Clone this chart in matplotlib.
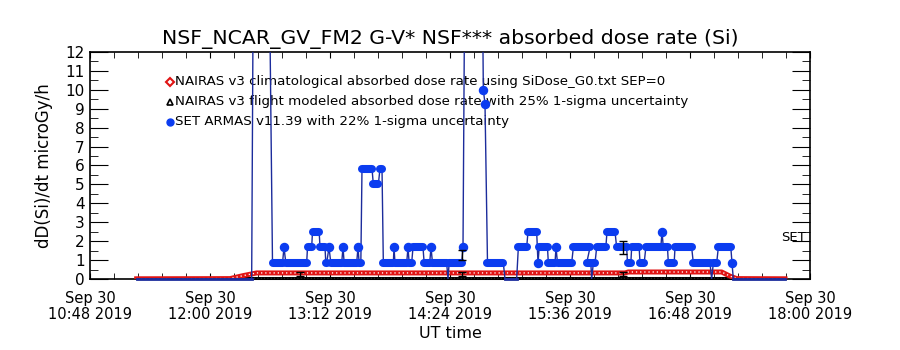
import numpy as np
import matplotlib
matplotlib.use('Agg')
import matplotlib.pyplot as plt
from matplotlib.ticker import MultipleLocator

# ---------------------------------------------------------------
# data (time in minutes after 2019-09-30 10:48 UT)
# ---------------------------------------------------------------
xtick_labels = ['Sep 30\n10:48 2019', 'Sep 30\n12:00 2019', 'Sep 30\n13:12 2019',
                'Sep 30\n14:24 2019', 'Sep 30\n15:36 2019', 'Sep 30\n16:48 2019',
                'Sep 30\n18:00 2019']

# NAIRAS climatological dose rate (knots)
clim_t = [28, 84, 92, 100, 321, 323, 379, 384, 388, 417]
clim_v = [0.01, 0.02, 0.18, 0.32, 0.32, 0.37, 0.37, 0.15, 0.02, 0.01]

# NAIRAS flight modeled dose rate (knots) and its 25% error bars
flt_t = [28, 417]
flt_v = [0.05, 0.05]
flt_err_t = [126, 223, 320]
flt_err_v = [0.27, 0.27, 0.27]
flt_err = [0.11, 0.11, 0.11]

# SET ARMAS v11.39: levels held between start and end time
set_t0 = [28, 98.5, 109.5, 116.4, 117.5, 130.5, 133.5, 138, 141.5, 143.4, 144.5, 151.8,
          152.5, 160.8, 161.5, 163.2, 170, 174, 176, 182.4, 183, 190.8, 191.5, 193.8,
          200.5, 204.6, 205.5, 214.8, 215.5, 223.8, 225.5, 236, 237, 238.5, 249,
          257, 262.8, 268.8, 269.5, 275, 279.6, 280.5, 290, 298, 301, 302, 304,
          310.2, 316, 322.5, 325, 330, 333.5, 343.2, 344, 347, 351, 362, 373,
          374, 377, 385.2, 386]
set_t1 = [97, 106.5, 115.5, 116.4, 130, 133, 137.5, 141, 142, 143.4, 151, 151.8,
          160, 160.8, 162.5, 169.2, 173, 175.2, 182, 182.4, 190, 190.8, 193, 199.8,
          203.8, 204.6, 214, 214.8, 223, 223.8, 234.5, 236, 237, 248, 256,
          262, 268, 268.8, 274.5, 279, 279.6, 289, 300, 300.5, 301, 303, 309.5,
          315, 322, 324.5, 329.5, 332.5, 342.5, 343.2, 346.5, 350.5, 361, 372, 373,
          376, 384.5, 385.2, 417]
set_v = [0, 25, 0.84, 1.67, 0.84, 1.67, 2.5, 1.67, 0.84, 1.67, 0.84, 1.67,
         0.84, 1.67, 0.84, 5.84, 5.0, 5.84, 0.84, 1.67, 0.84, 1.67, 0.84, 1.67,
         0.84, 1.67, 0.84, 0, 0.84, 1.67, 25, 10.0, 9.26, 0.84, 0,
         1.67, 2.5, 0.84, 1.67, 0.84, 1.67, 0.84, 1.67, 0.84, 0, 0.84, 1.67,
         2.5, 1.67, 0.84, 1.67, 0.84, 1.67, 2.5, 1.67, 0.84, 1.67, 0.84, 0,
         0.84, 1.67, 0.84, 0]
set_err_t = [223.2, 319.8]
set_err_v = [1.26, 1.66]
set_err = [0.26, 0.34]

# ---------------------------------------------------------------
# figure
# ---------------------------------------------------------------
plt.rcParams['font.family'] = 'DejaVu Sans'
blue = '#0b3cf0'
navy = '#1c2c9c'
red = '#e01414'

fig = plt.figure(figsize=(9, 3.5), dpi=100, facecolor='white')
ax = fig.add_axes([0.1, 0.2029, 0.8, 0.6485])

# flight modeled: black band of small open triangles
ax.plot(flt_t, flt_v, color='k', lw=2.2, clip_on=False, zorder=2)
ax.plot(flt_t, flt_v, color='white', lw=0.8, dashes=(0.8, 2.2), clip_on=False, zorder=2)

# climatological: red band of small open diamonds
ax.plot(clim_t, clim_v, color=red, lw=3.6, solid_joinstyle='round', zorder=3)
ax.plot(clim_t, clim_v, color='white', lw=1.0, dashes=(0.9, 2.1), zorder=3)

# SET: thin connecting line through all segment ends
path_t, path_v = [], []
for a, b, v in zip(set_t0, set_t1, set_v):
    path_t += [a, b]
    path_v += [v, v]
ax.plot(path_t, path_v, color=navy, lw=1.0, zorder=4)
for a, b, v in zip(set_t0, set_t1, set_v):
    if v == 0:
        ax.plot([a, b], [v, v], color=navy, lw=2.0, clip_on=False, zorder=4)
    elif v < 12:
        if a == b:
            ax.plot([a], [v], marker='o', ms=5.8, color=blue, zorder=5)
        else:
            ax.plot([a, b], [v, v], color=blue, lw=5.8, solid_capstyle='round', zorder=5)

ax.errorbar(flt_err_t, flt_err_v, yerr=flt_err, fmt='none', ecolor='k',
            elinewidth=1, capsize=3, capthick=1, zorder=6)
ax.errorbar(set_err_t, set_err_v, yerr=set_err, fmt='none', ecolor='k',
            elinewidth=1, capsize=3, capthick=1, zorder=6)

ax.set_xlim(0, 432)
ax.set_ylim(0, 12)
ax.set_xticks(np.arange(0, 433, 72))
ax.set_xticklabels(xtick_labels, fontsize=10.5, linespacing=1.05)
ax.xaxis.set_minor_locator(MultipleLocator(14.4))
ax.yaxis.set_major_locator(MultipleLocator(1))
ax.yaxis.set_minor_locator(MultipleLocator(0.5))
ax.tick_params(axis='x', which='both', direction='in', top=True, length=4, pad=9)
ax.tick_params(axis='y', which='major', direction='in', right=True, length=13, labelsize=11, pad=4)
ax.tick_params(axis='y', which='minor', direction='in', right=True, length=6)
for s in ax.spines.values():
    s.set_linewidth(1.2)

ax.set_title('NSF_NCAR_GV_FM2 G-V* NSF*** absorbed dose rate (Si)', fontsize=14.7, pad=6)
ax.set_xlabel('UT time', fontsize=11.5, labelpad=3)
ax.set_ylabel('dD(Si)/dt microGy/h', fontsize=12, labelpad=9)

# legend written into the plot
leg_txt = ['NAIRAS v3 climatological absorbed dose rate using SiDose_G0.txt SEP=0',
           'NAIRAS v3 flight modeled absorbed dose rate with 25% 1-sigma uncertainty',
           'SET ARMAS v11.39 with 22% 1-sigma uncertainty']
leg_y = [0.868, 0.781, 0.693]
ax.plot(0.111, leg_y[0], marker='D', ms=4, mfc='white', mec=red, mew=1.5,
        transform=ax.transAxes)
ax.plot(0.111, leg_y[1], marker='^', ms=4.5, mfc='white', mec='k', mew=1.2,
        transform=ax.transAxes)
ax.plot(0.111, leg_y[2], marker='o', ms=5, color=blue, transform=ax.transAxes)
for t, y in zip(leg_txt, leg_y):
    ax.text(0.118, y, t, transform=ax.transAxes, fontsize=9.6, va='center', ha='left')

ax.text(421.8, 2.2, 'SET', fontsize=9.5, ha='center', va='center')

fig.savefig('out.png', dpi=100, facecolor='white')
